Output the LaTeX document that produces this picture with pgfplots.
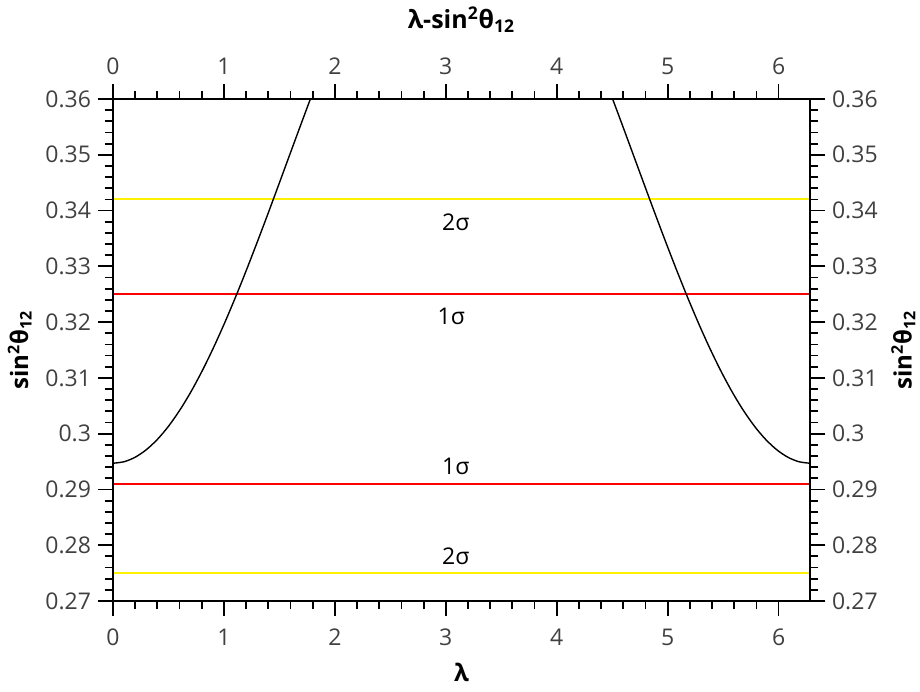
\documentclass[border=0pt]{standalone}
\usepackage{fontspec}
\setmainfont{Open Sans}
\usepackage{pgfplots}
\pgfplotsset{compat=1.18}

\pgfplotsset{
  base/.style={
    scale only axis, width=348.5pt, height=251pt,
    at={(0,0)}, anchor=south west,
    xmin=0, xmax=6.2832, ymin=0.27, ymax=0.36,
    xtick={0,1,2,3,4,5,6},
    ytick={0.27,0.28,0.29,0.30,0.31,0.32,0.33,0.34,0.35,0.36},
    minor x tick num=4, minor y tick num=4,
    tick align=outside,
    major tick length=7.5pt, minor tick length=4pt,
    axis line style={line width=1pt},
    every tick/.style={line width=0.9pt, black},
    tick label style={font=\fontsize{11.5}{13}\selectfont, color=black!75},
    /pgf/number format/assume math mode=true,
    yticklabel style={/pgf/number format/fixed, /pgf/number format/precision=2},
    label style={font=\fontsize{12}{14}\selectfont\bfseries},
    clip=true,
  }
}

\begin{document}
\begin{tikzpicture}
\useasboundingbox (-56.5pt,-45pt) rectangle (403.5pt,300.5pt);

\begin{axis}[base,
  xticklabel style={yshift=-3pt},
  xlabel={λ},
  xlabel style={yshift=-1.5pt},
  ylabel={sin\textsuperscript{2}θ\textsubscript{12}},
]
% sigma ranges
\addplot[color=yellow, line width=1pt] coordinates {(0,0.342) (6.2832,0.342)};
\addplot[color=red, line width=0.9pt] coordinates {(0,0.325) (6.2832,0.325)};
\addplot[color=red, line width=0.9pt] coordinates {(0,0.291) (6.2832,0.291)};
\addplot[color=yellow, line width=1pt] coordinates {(0,0.275) (6.2832,0.275)};

% curve
\addplot[black, line width=0.7pt, smooth] coordinates {
  (0.0,0.29470) (0.1,0.29497) (0.2,0.29578) (0.3,0.29712) (0.4,0.29897)
  (0.5,0.30132) (0.6,0.30415) (0.7,0.30742) (0.8,0.31111) (0.9,0.31517)
  (1.0,0.31957) (1.1,0.32426) (1.2,0.32920) (1.3,0.33433) (1.4,0.33960)
  (1.5,0.34497) (1.6,0.35038) (1.7,0.35577) (1.8,0.36109) (1.9,0.36629)
};
\addplot[black, line width=0.7pt, smooth] coordinates {
  (4.3832,0.36629) (4.4832,0.36109) (4.5832,0.35577) (4.6832,0.35038)
  (4.7832,0.34497) (4.8832,0.33960) (4.9832,0.33433) (5.0832,0.32920)
  (5.1832,0.32426) (5.2832,0.31957) (5.3832,0.31517) (5.4832,0.31111)
  (5.5832,0.30742) (5.6832,0.30415) (5.7832,0.30132) (5.8832,0.29897)
  (5.9832,0.29712) (6.0832,0.29578) (6.1832,0.29497) (6.2832,0.29470)
};

\node[font=\fontsize{11.5}{13}\selectfont, anchor=north] at (axis cs:3.09,0.3407) {2σ};
\node[font=\fontsize{11.5}{13}\selectfont, anchor=north] at (axis cs:3.05,0.3237) {1σ};
\node[font=\fontsize{11.5}{13}\selectfont, anchor=south] at (axis cs:3.09,0.2913) {1σ};
\node[font=\fontsize{11.5}{13}\selectfont, anchor=south] at (axis cs:3.09,0.2753) {2σ};
\end{axis}

\begin{axis}[base,
  xticklabel pos=upper, yticklabel pos=right,
  xticklabel style={yshift=1pt},
  title={λ-sin\textsuperscript{2}θ\textsubscript{12}},
  title style={font=\fontsize{12.5}{14}\selectfont\bfseries,
    at={(0.5,1)}, anchor=center, yshift=33.5pt},
  ylabel={sin\textsuperscript{2}θ\textsubscript{12}},
]
\addplot[draw=none] coordinates {(0,0.3)};
\end{axis}
\end{tikzpicture}
\end{document}
